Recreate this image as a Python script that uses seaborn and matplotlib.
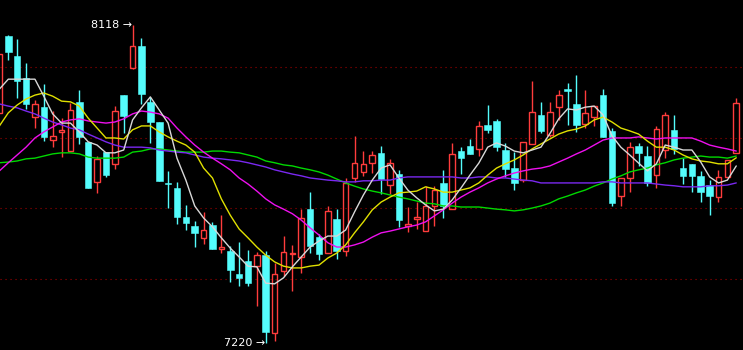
import numpy as np
import pandas as pd
import matplotlib
matplotlib.use("Agg")
import matplotlib.pyplot as plt
import seaborn as sns

# ---------------- data ----------------
opens = [7870, 8087, 8030, 7968, 7858, 7886, 7793, 7816, 7762, 7901,
         7788, 7675, 7759, 7726, 7920, 7997, 8059, 7901, 7844, 7672,
         7658, 7576, 7550, 7517, 7553, 7485, 7480, 7415, 7452, 7437,
         7468, 7248, 7423, 7471, 7463, 7598, 7519, 7474, 7570, 7480,
         7686, 7703, 7728, 7757, 7666, 7697, 7550, 7570, 7536, 7607,
         7672, 7598, 7762, 7776, 7768, 7836, 7847, 7765, 7714, 7680,
         7782, 7864, 7807, 7886, 7937, 7895, 7838, 7858, 7920, 7819,
         7635, 7686, 7776, 7748, 7694, 7765, 7822, 7714, 7726, 7692,
         7666, 7632, 7689, 7757]
highs = [8036, 8090, 8078, 8011, 7906, 7951, 7875, 7855, 7898, 7934,
         7788, 7748, 7759, 7889, 7920, 8118, 8081, 7915, 7844, 7706,
         7675, 7610, 7565, 7590, 7562, 7581, 7494, 7505, 7483, 7477,
         7480, 7446, 7522, 7497, 7598, 7646, 7528, 7607, 7598, 7686,
         7805, 7762, 7762, 7776, 7740, 7709, 7604, 7618, 7663, 7663,
         7709, 7785, 7773, 7796, 7847, 7892, 7853, 7785, 7759, 7788,
         7960, 7901, 7901, 7934, 7954, 7977, 7934, 7889, 7937, 7827,
         7686, 7788, 7785, 7776, 7833, 7872, 7864, 7742, 7726, 7706,
         7680, 7709, 7737, 7912]
lows = [7870, 8019, 7912, 7881, 7827, 7790, 7773, 7745, 7762, 7782,
        7658, 7644, 7689, 7711, 7813, 7994, 7895, 7785, 7677, 7601,
        7556, 7539, 7491, 7500, 7485, 7474, 7392, 7381, 7381, 7324,
        7220, 7226, 7409, 7367, 7418, 7474, 7454, 7474, 7457, 7466,
        7675, 7692, 7700, 7641, 7641, 7548, 7533, 7542, 7536, 7550,
        7573, 7598, 7697, 7754, 7748, 7813, 7762, 7689, 7652, 7675,
        7782, 7813, 7802, 7850, 7836, 7816, 7827, 7833, 7802, 7607,
        7607, 7646, 7720, 7663, 7658, 7742, 7754, 7669, 7646, 7618,
        7581, 7618, 7689, 7757]
closes = [8036, 8042, 7960, 7895, 7895, 7802, 7805, 7822, 7878, 7802,
          7658, 7740, 7694, 7875, 7861, 8059, 7923, 7844, 7677, 7669,
          7576, 7559, 7531, 7539, 7485, 7491, 7426, 7404, 7389, 7468,
          7251, 7415, 7477, 7474, 7573, 7494, 7471, 7593, 7480, 7672,
          7728, 7726, 7751, 7683, 7728, 7567, 7556, 7576, 7607, 7652,
          7607, 7754, 7742, 7754, 7833, 7822, 7773, 7711, 7672, 7788,
          7872, 7819, 7872, 7920, 7932, 7836, 7870, 7889, 7802, 7615,
          7686, 7773, 7757, 7672, 7824, 7864, 7768, 7692, 7692, 7646,
          7635, 7689, 7737, 7898]

ma_white = [7937, 7965, 7965, 7965, 7965, 7917, 7867, 7841, 7841, 7816,
            7788, 7779, 7757, 7757, 7765, 7850, 7884, 7915, 7878, 7841,
            7742, 7680, 7607, 7573, 7548, 7517, 7488, 7463, 7437, 7435,
            7389, 7387, 7404, 7435, 7463, 7491, 7508, 7522, 7522, 7539,
            7590, 7638, 7680, 7714, 7723, 7686, 7652, 7630, 7610, 7593,
            7598, 7624, 7658, 7694, 7728, 7773, 7785, 7776, 7762, 7757,
            7765, 7773, 7811, 7853, 7881, 7878, 7886, 7889, 7864, 7805,
            7773, 7751, 7728, 7706, 7726, 7779, 7773, 7765, 7765, 7731,
            7689, 7672, 7680, 7720]
ma_yellow = [7833, 7870, 7892, 7909, 7920, 7926, 7917, 7903, 7901, 7889,
             7855, 7827, 7799, 7799, 7796, 7822, 7833, 7833, 7816, 7802,
             7790, 7779, 7759, 7714, 7686, 7627, 7581, 7542, 7517, 7491,
             7468, 7449, 7437, 7432, 7432, 7437, 7440, 7460, 7474, 7497,
             7531, 7562, 7596, 7618, 7632, 7644, 7646, 7649, 7661, 7655,
             7646, 7646, 7652, 7658, 7672, 7694, 7714, 7726, 7737, 7751,
             7768, 7782, 7796, 7810, 7819, 7824, 7833, 7850, 7858, 7844,
             7827, 7819, 7810, 7790, 7773, 7773, 7765, 7751, 7740, 7734,
             7731, 7726, 7726, 7743]
ma_magenta = [7706, 7729, 7751, 7773, 7799, 7816, 7830, 7844, 7850, 7853,
              7847, 7844, 7841, 7844, 7853, 7867, 7875, 7872, 7867, 7855,
              7827, 7802, 7779, 7759, 7742, 7726, 7709, 7686, 7669, 7649,
              7627, 7610, 7598, 7585, 7567, 7545, 7525, 7503, 7491, 7491,
              7497, 7505, 7519, 7531, 7536, 7542, 7548, 7553, 7562, 7579,
              7596, 7615, 7632, 7646, 7658, 7672, 7683, 7692, 7700, 7706,
              7711, 7714, 7720, 7731, 7742, 7754, 7765, 7779, 7793, 7799,
              7799, 7799, 7802, 7799, 7796, 7799, 7799, 7799, 7799, 7790,
              7779, 7773, 7768, 7762]
ma_green = [7729, 7731, 7734, 7740, 7742, 7748, 7754, 7757, 7757, 7754,
            7745, 7742, 7742, 7742, 7745, 7759, 7762, 7768, 7768, 7765,
            7762, 7759, 7759, 7759, 7762, 7762, 7759, 7757, 7751, 7745,
            7734, 7729, 7723, 7720, 7714, 7709, 7703, 7694, 7683, 7672,
            7663, 7655, 7649, 7644, 7638, 7632, 7627, 7621, 7615, 7613,
            7607, 7607, 7604, 7604, 7604, 7601, 7598, 7596, 7593, 7596,
            7601, 7607, 7615, 7627, 7635, 7644, 7652, 7663, 7672, 7683,
            7692, 7703, 7709, 7714, 7723, 7729, 7737, 7742, 7745, 7748,
            7745, 7745, 7742, 7748]
ma_purple = [7895, 7889, 7884, 7875, 7867, 7855, 7844, 7836, 7827, 7822,
             7810, 7799, 7788, 7779, 7773, 7773, 7773, 7771, 7765, 7762,
             7759, 7757, 7751, 7745, 7742, 7740, 7737, 7734, 7729, 7723,
             7717, 7709, 7703, 7697, 7692, 7686, 7683, 7680, 7678, 7675,
             7675, 7678, 7678, 7680, 7680, 7686, 7689, 7689, 7689, 7689,
             7689, 7689, 7686, 7686, 7689, 7689, 7686, 7686, 7683, 7680,
             7678, 7672, 7672, 7672, 7672, 7672, 7672, 7672, 7675, 7675,
             7672, 7672, 7672, 7672, 7669, 7666, 7664, 7661, 7661, 7661,
             7664, 7664, 7666, 7672]

grid_levels = [8000, 7800, 7600, 7400]
high_label = "8118"
low_label = "7220"

# ---------------- styling ----------------
UP = "#ff3c3c"
DOWN = "#54fcfc"
BG = "#000000"

sns.set_theme(style="dark", rc={"axes.facecolor": BG, "figure.facecolor": BG})
plt.rcParams["font.family"] = ["DejaVu Sans"]

fig = plt.figure(figsize=(7.43, 3.50), dpi=100)
ax = fig.add_axes([0, 0, 1, 1])
ax.set_facecolor(BG)

df = pd.DataFrame({"open": opens, "high": highs, "low": lows, "close": closes})
df["idx"] = np.arange(len(df))
up = df["close"] >= df["open"]

# grid lines
for g in grid_levels:
    ax.axhline(g, color="#a00000", lw=0.8, ls=(0, (1, 3.5)), zorder=1)

width = 0.74
d = df[~up]
u = df[up]
# down candles: full wick + filled body
ax.vlines(d["idx"], d["low"], d["high"], color=DOWN, lw=1.0, zorder=3)
ax.bar(d["idx"], np.maximum((d["open"] - d["close"]).values, 2.0),
       bottom=d["close"], width=width, color=DOWN, edgecolor=DOWN,
       linewidth=0.4, zorder=4)
# up candles: hollow bodies, wicks outside body
ax.vlines(u["idx"], u["close"], u["high"], color=UP, lw=1.0, zorder=3)
ax.vlines(u["idx"], u["low"], u["open"], color=UP, lw=1.0, zorder=3)
ax.bar(u["idx"], np.maximum((u["close"] - u["open"]).values, 2.0),
       bottom=u["open"], width=width - 0.1, facecolor="none", edgecolor=UP,
       linewidth=1.0, zorder=4)

# moving average lines (seaborn), drawn over the candles
ma_series = [(ma_green, "#00d800"), (ma_purple, "#7a28f0"),
             (ma_magenta, "#ee10ee"), (ma_yellow, "#e0e000"),
             (ma_white, "#d8d8d8")]
for vals, col in ma_series:
    sns.lineplot(x=df["idx"], y=vals, color=col, lw=1.0, ax=ax,
                 legend=False, zorder=6, estimator=None)

# extreme labels
hi_i = int(np.argmax(highs))
lo_i = int(np.argmin(lows))
ax.text(hi_i - 0.1, highs[hi_i], high_label + " \u2192", color="white",
        fontsize=8, ha="right", va="center", zorder=7)
ax.text(lo_i - 0.1, lows[lo_i], low_label + " \u2192", color="white",
        fontsize=8, ha="right", va="center", zorder=7)

ax.set_xlim(0.065, 83.76)
ax.set_ylim(7200.2, 8188.6)
ax.set_xticks([])
ax.set_yticks([])
ax.set_xlabel("")
ax.set_ylabel("")
for s in ax.spines.values():
    s.set_visible(False)
ax.grid(False)

fig.savefig("out.png", dpi=100, facecolor=BG)
